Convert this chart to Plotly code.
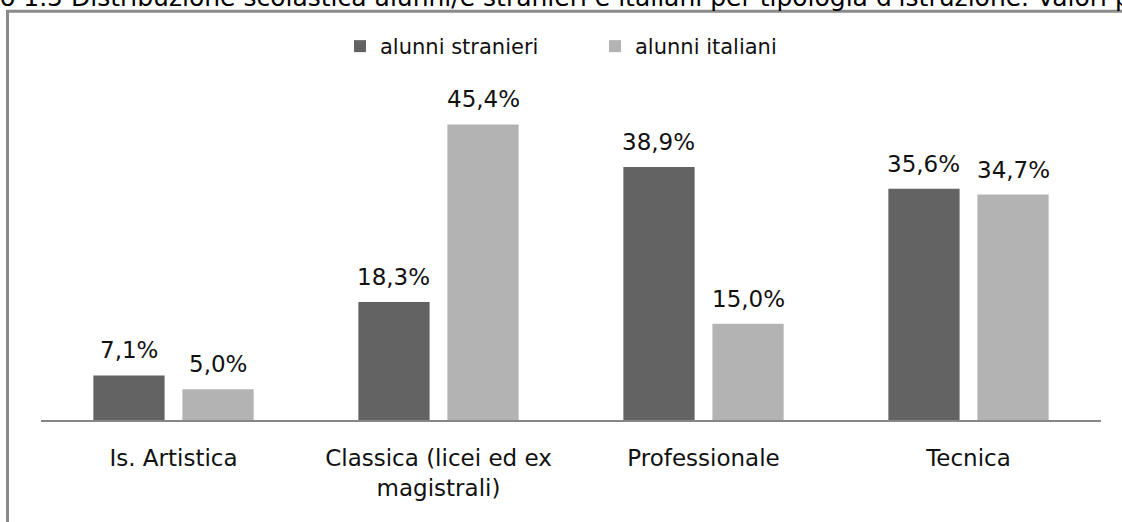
import plotly.graph_objects as go

categories = ["Is. Artistica", "Classica (licei ed ex<br>magistrali)", "Professionale", "Tecnica"]
stranieri = [7.1, 18.3, 38.9, 35.6]
italiani = [5.0, 45.4, 15.0, 34.7]
series_names = ["alunni stranieri", "alunni italiani"]
title_text = "o 1.5 Distribuzione scolastica alunni/e stranieri e italiani per tipologia d'istruzione. Valori percentuali"

W, H = 1122, 522
ML, MR, MT, MB = 41, 21, 94, 102
PW = W - ML - MR
PH = H - MT - MB
BARGAP = 0.328
GROUPGAP = 0.2
FONT = "DejaVu Sans"
DARK = "#636363"
LIGHT = "#b3b3b3"

def fmt(v):
    return f"{v:.1f}".replace(".", ",") + "%"

def px_x(p):
    return (p - ML) / PW

def px_y(p):
    return (H - MB - p) / PH

fig = go.Figure()
fig.add_trace(go.Bar(name=series_names[0], x=categories, y=stranieri,
                     marker=dict(color=DARK, line=dict(width=0))))
fig.add_trace(go.Bar(name=series_names[1], x=categories, y=italiani,
                     marker=dict(color=LIGHT, line=dict(width=0))))

# data labels above bars, offset to each bar of the group
cat_w = PW / len(categories)
slot = cat_w * (1 - BARGAP) / 2
for vals, sign in ((stranieri, -1), (italiani, 1)):
    for c, v in zip(categories, vals):
        fig.add_annotation(x=c, y=v, text=fmt(v), showarrow=False,
                           xref="x", yref="y", yanchor="bottom",
                           xshift=sign * slot / 2, yshift=10,
                           font=dict(family=FONT, size=23, color="#111111"))

# title line (cut at top of the page, as in the source document)
fig.add_annotation(x=px_x(-2), y=px_y(14), xref="paper", yref="paper",
                   text=title_text, showarrow=False, xanchor="left", yanchor="bottom",
                   font=dict(family=FONT, size=25, color="#000000"))

# frame of the chart box
fig.add_shape(type="line", xref="paper", yref="paper",
              x0=px_x(7.5), x1=px_x(7.5), y0=px_y(10), y1=px_y(H + 10),
              line=dict(color="#8a8a8a", width=3))
fig.add_shape(type="line", xref="paper", yref="paper",
              x0=px_x(6), x1=px_x(W + 10), y0=px_y(11.3), y1=px_y(11.3),
              line=dict(color="#8a8a8a", width=3))

fig.update_layout(
    width=W, height=H,
    margin=dict(l=ML, r=MR, t=MT, b=MB, pad=0),
    paper_bgcolor="white", plot_bgcolor="white",
    barmode="group", bargap=BARGAP, bargroupgap=GROUPGAP,
    font=dict(family=FONT, color="#000000"),
    showlegend=True,
    legend=dict(orientation="h", x=px_x(340), y=px_y(46.5), xanchor="left", yanchor="middle",
                font=dict(family=FONT, size=21, color="#111111"),
                bgcolor="rgba(0,0,0,0)", entrywidth=210, entrywidthmode="pixels",
                itemclick=False),
    xaxis=dict(showline=True, linecolor="#878787", linewidth=2, showgrid=False,
               ticks="", tickfont=dict(family=FONT, size=23, color="#111111"),
               ticklabelstandoff=16, zeroline=False),
    yaxis=dict(visible=False, range=[0.3, 50.05], showgrid=False, zeroline=False),
)

fig.write_html("out.html", config={"displayModeBar": False},
               post_script="document.body.style.margin='0';document.body.style.overflow='hidden';")
